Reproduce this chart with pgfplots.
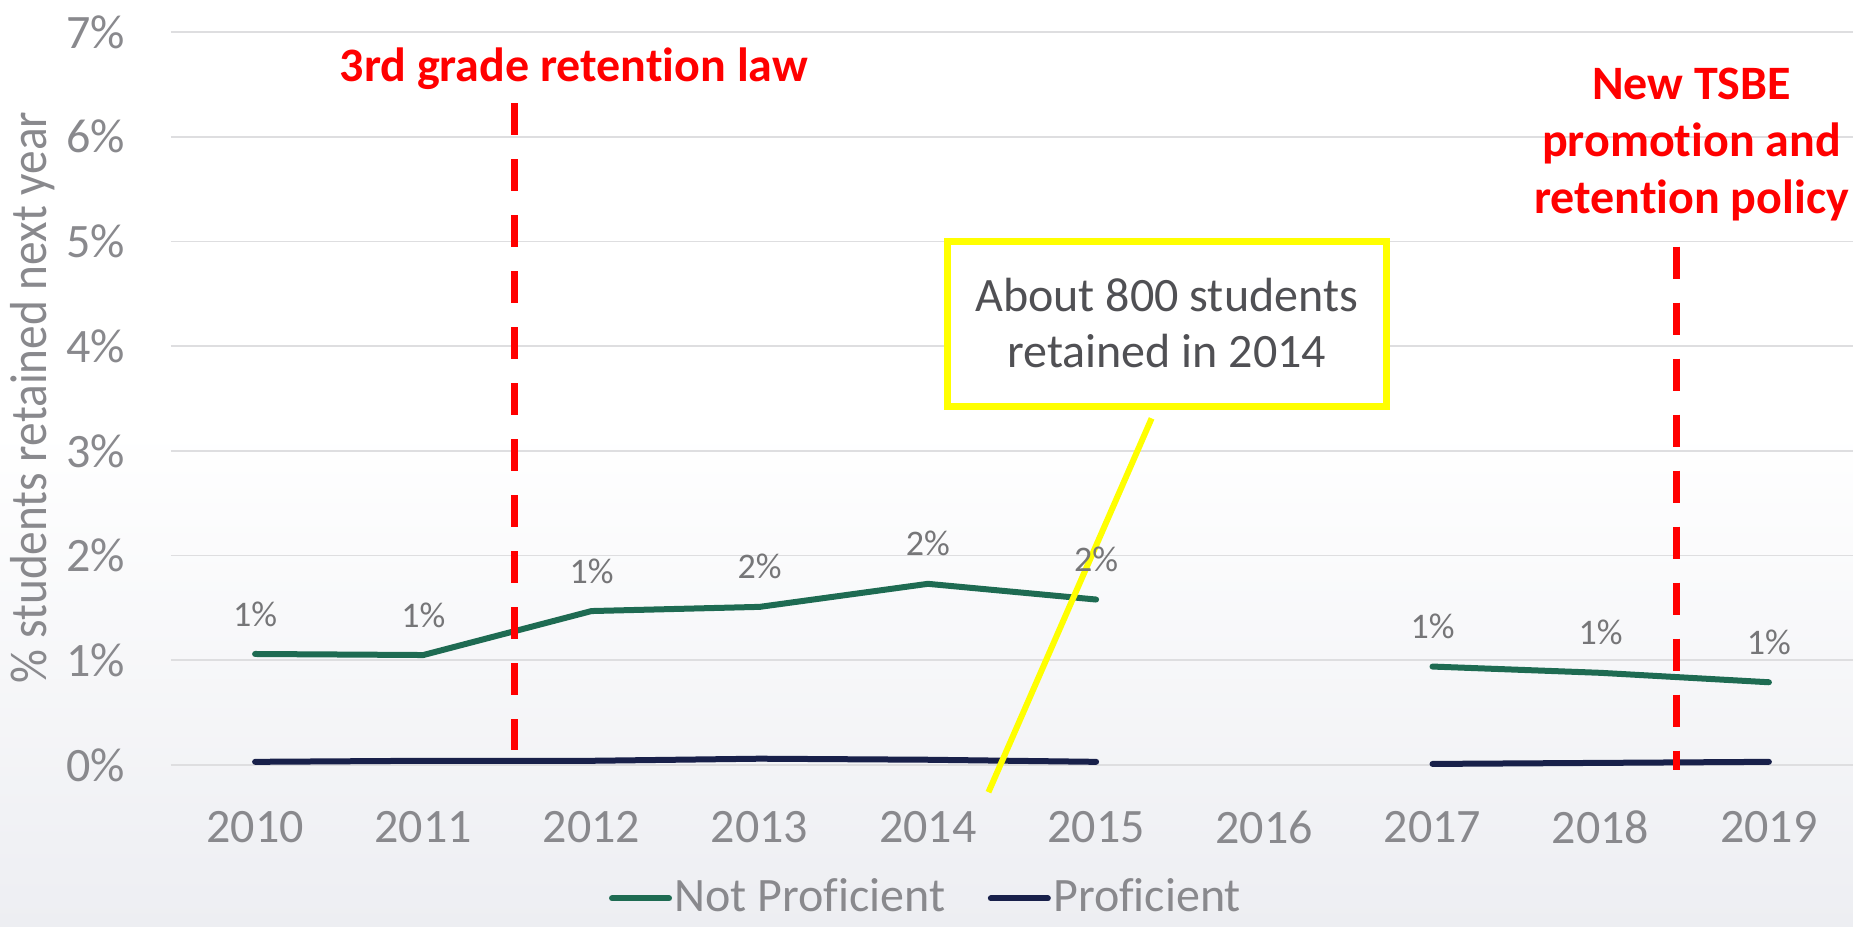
\documentclass[border=0pt]{standalone}
\usepackage{fontspec}
\setmainfont{Carlito}[Ligatures=NoCommon]
\newfontfamily\ylabfont[FakeStretch=0.91,Ligatures=NoCommon]{Carlito}
\usepackage{pgfplots}
\pgfplotsset{compat=1.18}

\definecolor{npgreen}{RGB}{30,107,82}
\definecolor{pnavy}{RGB}{24,32,74}
\definecolor{ticktext}{RGB}{137,137,141}
\definecolor{labeltext}{RGB}{118,118,120}
\definecolor{gridgray}{RGB}{222,222,224}
\definecolor{bgbottom}{RGB}{237,238,242}
\definecolor{boxtext}{RGB}{80,80,84}
\definecolor{callout}{RGB}{255,255,0}

\begin{document}
\begin{tikzpicture}
% 1 px of the reference = 0.25pt; plot area 1682 x 733 px
\fill[white] (-42.75pt,-40.5pt) rectangle (420.5pt,191.25pt);
\shade[top color=white, bottom color=bgbottom] (-42.75pt,-40.5pt) rectangle (420.5pt,83.75pt);
\begin{axis}[
    scale only axis,
    width=420.5pt, height=183.25pt,
    xmin=2009.5, xmax=2019.5,
    ymin=0, ymax=7,
    xtick={2010,...,2019},
    ytick={0,...,7},
    yticklabel={\pgfmathprintnumber{\tick}\%},
    /pgf/number format/1000 sep={},
    /pgf/number format/assume math mode=true,
    axis line style={draw=none},
    major tick style={draw=none},
    ymajorgrids,
    grid style={gridgray, line width=0.45pt},
    tick label style={font=\fontsize{12}{14}\selectfont, text=ticktext},
    x tick label style={anchor=center, yshift=-15.5pt},
    y tick label style={anchor=east, xshift=-8pt},
    clip=false,
    every axis plot/.append style={line width=1.5pt, line cap=round, line join=round},
    legend columns=2,
    legend style={at={(0.449,-0.182)}, anchor=center, draw=none, fill=none,
        font=\fontsize{12}{14}\selectfont, text=ticktext,
        nodes={inner sep=0.6pt},
        /tikz/every even column/.append style={column sep=10pt}},
    legend image code/.code={\draw[#1] (0pt,0pt) -- (14.25pt,0pt);},
]
% Not Proficient (no data for 2016)
\addplot[npgreen,
    nodes near coords={\pgfmathprintnumber[fixed,precision=0]{\pgfplotspointmeta}\%},
    every node near coord/.append style={font=\fontsize{9}{11}\selectfont, text=labeltext, anchor=center, yshift=10pt}]
    coordinates {(2010,1.06) (2011,1.05) (2012,1.47) (2013,1.51) (2014,1.73) (2015,1.58)};
\addplot[npgreen, forget plot,
    nodes near coords={\pgfmathprintnumber[fixed,precision=0]{\pgfplotspointmeta}\%},
    every node near coord/.append style={font=\fontsize{9}{11}\selectfont, text=labeltext, anchor=center, yshift=10pt}]
    coordinates {(2017,0.94) (2018,0.88) (2019,0.79)};
% Proficient
\addplot[pnavy] coordinates {(2010,0.03) (2011,0.04) (2012,0.04) (2013,0.06) (2014,0.05) (2015,0.03)};
\addplot[pnavy, forget plot] coordinates {(2017,0.01) (2018,0.02) (2019,0.03)};
\legend{Not Proficient, Proficient}

% policy markers
\addplot[red, line width=1.8pt, line cap=butt, dash pattern=on 8pt off 6pt, forget plot]
    coordinates {(2011.54,6.32) (2011.54,0.14)};
\addplot[red, line width=1.8pt, line cap=butt, dash pattern=on 8pt off 6pt, forget plot]
    coordinates {(2018.45,4.95) (2018.45,-0.05)};
\node[anchor=base, text=red, font=\bfseries\fontsize{12}{14.4}\selectfont]
    at (axis cs:2011.895,6.528) {3rd grade retention law};
\node[anchor=base, text=red, font=\bfseries\fontsize{12}{14.4}\selectfont]
    at (axis cs:2018.54,6.358) {New TSBE};
\node[anchor=base, text=red, font=\bfseries\fontsize{12}{14.4}\selectfont]
    at (axis cs:2018.54,5.807) {promotion and};
\node[anchor=base, text=red, font=\bfseries\fontsize{12}{14.4}\selectfont]
    at (axis cs:2018.54,5.263) {retention policy};

% callout
\addplot[callout, line width=1.5pt, line cap=butt, forget plot]
    coordinates {(2015.33,3.31) (2014.36,-0.26)};
\draw[callout, line width=1.75pt, fill=white] (axis cs:2014.116,5.0) rectangle (axis cs:2016.727,3.424);
\node[anchor=base, text=boxtext, font=\fontsize{12}{14}\selectfont]
    at (axis cs:2015.42,4.330) {About 800 students};
\node[anchor=base, text=boxtext, font=\fontsize{12}{14}\selectfont]
    at (axis cs:2015.42,3.792) {retained in 2014};
\end{axis}
\node[rotate=90, anchor=base, text=ticktext, font=\ylabfont\fontsize{13}{15}\selectfont]
    at (-31pt,91.9pt) {\% students retained next year};
\pgfresetboundingbox
\path[use as bounding box] (-42.75pt,-40.5pt) rectangle (420.5pt,191.25pt);
\end{tikzpicture}
\end{document}
